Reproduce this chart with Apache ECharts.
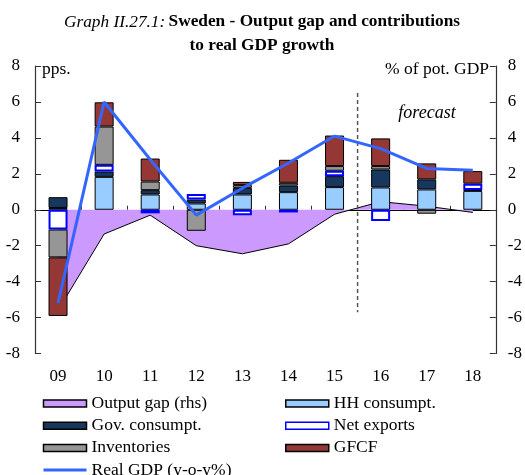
<!DOCTYPE html>
<html><head><meta charset="utf-8">
<script src="https://cdn.jsdelivr.net/npm/echarts@6/dist/echarts.min.js"></script>
<style>html,body{margin:0;padding:0;background:#fff}#c{width:525px;height:475px}</style>
</head><body><div id="c"></div>
<script>
var categories = ['09','10','11','12','13','14','15','16','17','18'];
var hhConsumpt = [0.1, 1.83, 0.85, 0.35, 0.85, 0.98, 1.26, 1.24, 1.13, 1.05];
var govConsumpt = [0.6, 0.3, 0.24, 0.22, 0.37, 0.37, 0.61, 1.0, 0.56, 0.05];
var netExports = [-1.1, 0.37, -0.2, 0.3, -0.3, -0.15, 0.3, -0.63, null, 0.35];
var inventories = [-1.55, 2.13, 0.48, -1.17, 0.15, 0.15, 0.26, 0.19, -0.22, null];
var gfcf = [-3.26, 1.35, 1.28, null, 0.18, 1.28, 1.7, 1.54, 0.89, 0.7];
var realGdp = [-5.2, 6.0, 2.8, -0.3, 1.2, 2.6, 4.1, 3.4, 2.3, 2.2];
var outputGap = [-5.6, -1.35, -0.3, -2.0, -2.45, -1.9, -0.25, 0.45, 0.2, -0.15];
var yTicks = {min: -8, max: 8, interval: 2};
var forecastSplit = [[6.5, 6.5], [6.5, -5.7]];

var FONT = 'Liberation Serif';
var chart = echarts.init(document.getElementById('c'), null, {renderer: 'canvas'});

function barSeries(name, data, color, border, bw) {
  return {
    name: name, type: 'bar', stack: 'c', data: data, barWidth: 19,
    xAxisIndex: 0, yAxisIndex: 0, z: 3,
    itemStyle: {color: color, borderColor: border, borderWidth: bw},
    emphasis: {disabled: true}
  };
}

var legendText = {fontFamily: FONT, fontSize: 17.5, color: '#000', lineHeight: 17};

var option = {
  animation: false,
  backgroundColor: '#fff',
  grid: {left: 35, right: 28, top: 66, bottom: 121.5, containLabel: false},
  legend: [
    {
      orient: 'vertical', left: 42, top: 394.5, height: 120, padding: 0,
      itemWidth: 43, itemHeight: 7, itemGap: 4.2,
      textStyle: legendText, selectedMode: false,
      data: [
        {name: 'Output gap (rhs)', icon: 'rect', itemStyle: {color: '#cc99ff', borderColor: '#000', borderWidth: 1.5}},
        {name: 'Gov. consumpt.', icon: 'rect', itemStyle: {color: '#17375e', borderColor: '#000', borderWidth: 1.5}},
        {name: 'Inventories', icon: 'rect', itemStyle: {color: '#969696', borderColor: '#000', borderWidth: 1.5}},
        {name: 'Real GDP (y-o-y%)', itemStyle: {opacity: 0}, lineStyle: {color: '#3366ff', width: 3}}
      ]
    },
    {
      orient: 'vertical', left: 285, top: 394.5, height: 120, padding: 0,
      itemWidth: 43, itemHeight: 7, itemGap: 4.2,
      textStyle: legendText, selectedMode: false,
      data: [
        {name: 'HH consumpt.', icon: 'rect', itemStyle: {color: '#99ccff', borderColor: '#000', borderWidth: 1.5}},
        {name: 'Net exports', icon: 'rect', itemStyle: {color: '#ffffff', borderColor: '#0000ff', borderWidth: 1.5}},
        {name: 'GFCF', icon: 'rect', itemStyle: {color: '#953735', borderColor: '#000', borderWidth: 1.5}}
      ]
    }
  ],
  xAxis: [
    {
      type: 'category', data: categories, position: 'bottom',
      axisLine: {show: false, onZero: false}, axisTick: {show: false},
      axisLabel: {fontFamily: FONT, fontSize: 17, color: '#000', margin: 15},
      splitLine: {show: false}
    },
    {
      type: 'category', data: categories, position: 'bottom',
      axisLine: {show: true, onZero: true, lineStyle: {color: '#000', width: 1.2}},
      axisTick: {show: true, inside: true, length: 4, lineStyle: {color: '#333'}},
      axisLabel: {show: false}, splitLine: {show: false}
    },
    {
      type: 'value', min: -0.5, max: 9.5, show: false
    }
  ],
  yAxis: [
    {
      type: 'value', position: 'left', min: yTicks.min, max: yTicks.max, interval: yTicks.interval,
      axisLine: {show: true, onZero: false, lineStyle: {color: '#333', width: 1.2}},
      axisTick: {show: true, inside: true, length: 6, lineStyle: {color: '#333'}},
      axisLabel: {fontFamily: FONT, fontSize: 17, color: '#000', margin: 15},
      splitLine: {show: false}
    },
    {
      type: 'value', position: 'right', min: yTicks.min, max: yTicks.max, interval: yTicks.interval,
      axisLine: {show: true, onZero: false, lineStyle: {color: '#333', width: 1.2}},
      axisTick: {show: true, inside: true, length: 6, lineStyle: {color: '#333'}},
      axisLabel: {fontFamily: FONT, fontSize: 17, color: '#000', margin: 12, align: 'left'},
      splitLine: {show: false}
    }
  ],
  series: [
    {
      name: 'Output gap (rhs)', type: 'line', data: outputGap, xAxisIndex: 0, yAxisIndex: 1,
      symbol: 'none', z: 1,
      lineStyle: {color: '#000', width: 1},
      itemStyle: {color: '#cc99ff'},
      areaStyle: {color: '#cc99ff', opacity: 1},
      emphasis: {disabled: true}
    },
    barSeries('HH consumpt.', hhConsumpt, '#99ccff', '#000', 1),
    barSeries('Gov. consumpt.', govConsumpt, '#17375e', '#000', 1),
    barSeries('Net exports', netExports, '#ffffff', '#0000ff', 2),
    barSeries('Inventories', inventories, '#969696', '#000', 1),
    barSeries('GFCF', gfcf, '#953735', '#000', 1),
    {
      name: 'Real GDP (y-o-y%)', type: 'line', data: realGdp, xAxisIndex: 0, yAxisIndex: 0,
      symbol: 'none', z: 5,
      lineStyle: {color: '#3366ff', width: 3},
      itemStyle: {color: '#3366ff'},
      emphasis: {disabled: true}
    },
    {
      name: 'split', type: 'line', data: forecastSplit, xAxisIndex: 2, yAxisIndex: 0,
      symbol: 'none', z: 4, silent: true,
      lineStyle: {color: '#555', width: 1.5, type: [4, 3]}
    }
  ],
  graphic: [
    {
      type: 'text', x: 262, y: 10,
      style: {
        text: '{i|Graph II.27.1:} {b|Sweden - Output gap and contributions}\n{b|to real GDP growth}',
        align: 'center', verticalAlign: 'top',
        rich: {
          i: {fontFamily: FONT, fontStyle: 'italic', fontSize: 17.3, lineHeight: 24, fill: '#000'},
          b: {fontFamily: FONT, fontWeight: 'bold', fontSize: 17.3, lineHeight: 24, fill: '#000'}
        }
      }
    },
    {type: 'text', x: 42, y: 69, style: {text: 'pps.', fontFamily: FONT, fontSize: 17.5, fill: '#000', verticalAlign: 'middle'}},
    {type: 'text', x: 489, y: 69, style: {text: '% of pot. GDP', fontFamily: FONT, fontSize: 17.5, fill: '#000', align: 'right', verticalAlign: 'middle'}},
    {type: 'text', x: 427, y: 113, style: {text: 'forecast', fontFamily: FONT, fontSize: 18, fontStyle: 'italic', fill: '#000', align: 'center', verticalAlign: 'middle'}}
  ]
};
chart.setOption(option);
</script>
</body></html>
